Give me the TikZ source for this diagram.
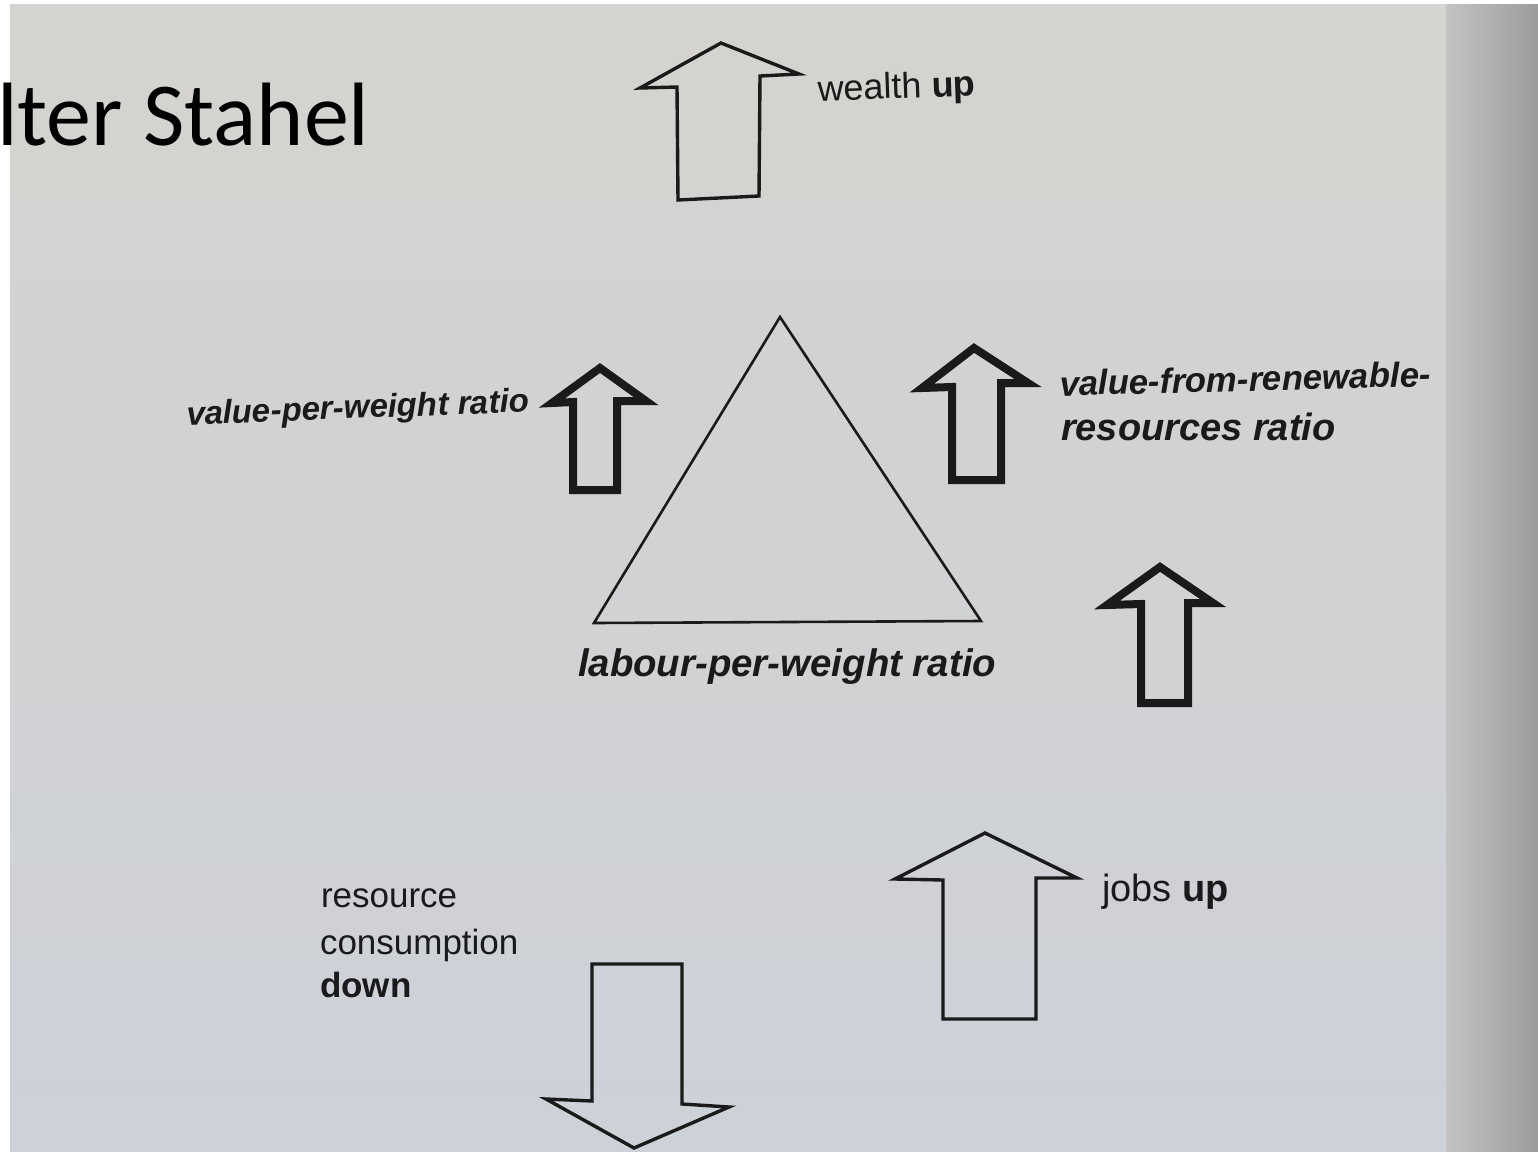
\documentclass[tikz,border=0pt]{standalone}
\usepackage{fontspec}
\setmainfont{Liberation Sans}
\newfontfamily\titlefont{Carlito}
\definecolor{bgtop}{HTML}{D5D3CF}
\definecolor{bgbot}{HTML}{CDD1D8}
\definecolor{edgeA}{HTML}{C4C3C1}
\definecolor{edgeB}{HTML}{9C9C9C}
\definecolor{ink}{HTML}{1A1A1A}
\begin{document}
\begin{tikzpicture}[x=0.5pt,y=-0.5pt,
  thinarrow/.style={draw=ink,line width=1.7pt,line join=miter},
  thickarrow/.style={draw=ink,line width=4pt,line join=miter},
  tri/.style={draw=ink,line width=1.3pt,line join=miter},
  lbl/.style={inner sep=0pt,outer sep=0pt,text=ink,anchor=base west},
  bi/.style={lbl,font=\bfseries\itshape}]
\useasboundingbox (0,0) rectangle (1538,1152);
% background (photographed page)
\shade[top color=bgtop,bottom color=bgbot] (0,0) rectangle (1538,1152);
\shade[left color=edgeA,right color=edgeB] (1446,0) rectangle (1538,1152);
\fill[white] (0,0) rectangle (10,1152);
\fill[white] (0,0) rectangle (1538,4);
% title
\node[lbl,font=\titlefont\fontsize{45}{50}\selectfont,text=black] (title) at (-3,145) {lter Stahel};
% wealth arrow (thin)
\draw[thinarrow] (721,43) -- (799,74) -- (760,76) -- (759,196) -- (678,200) -- (677,87) -- (640,88) -- cycle;
\node[lbl,font=\fontsize{18}{22}\selectfont,rotate=2] (wealth) at (818,101) {wealth \textbf{up}};
% triangle
\draw[tri] (780,317) -- (981,621) -- (594,623) -- cycle;
\coordinate (triapex) at (780,317);
% value-per-weight arrow (thick)
\draw[thickarrow] (600,368) -- (646,401) -- (617,401) -- (617,490) -- (573,490) -- (573,402) -- (552,403) -- cycle;
\node[bi,font=\bfseries\itshape\fontsize{16.5}{20}\selectfont,rotate=2.2] (vpw) at (187,425) {value-per-weight ratio};
% value-from-renewable arrow (thick)
\draw[thickarrow] (974,348) -- (1028,383) -- (1001,383) -- (1001,480) -- (952,480) -- (952,387) -- (922,388) -- cycle;
\node[bi,font=\bfseries\itshape\fontsize{17.4}{22}\selectfont,rotate=1.5] (vfr1) at (1060,396) {value-from-renewable-};
\node[bi,font=\bfseries\itshape\fontsize{19}{22}\selectfont] (vfr2) at (1061,440) {resources ratio};
% labour arrow (thick)
\draw[thickarrow] (1160,567) -- (1213,603) -- (1188,603) -- (1188,703) -- (1141,703) -- (1141,604) -- (1107,605) -- cycle;
\node[bi,font=\bfseries\itshape\fontsize{19.2}{22}\selectfont] (labour) at (578,676) {labour-per-weight ratio};
% jobs arrow (thin)
\draw[thinarrow] (985,833) -- (1077,878) -- (1036,878) -- (1036,1019) -- (943,1019) -- (943,880) -- (895,879) -- cycle;
\node[lbl,font=\fontsize{19}{22}\selectfont] (jobs) at (1102,901) {jobs \textbf{up}};
% resource consumption down arrow (thin)
\draw[thinarrow] (592,964) -- (682,964) -- (682,1104) -- (729,1107) -- (634,1148) -- (546,1099) -- (592,1101) -- cycle;
\node[lbl,font=\fontsize{17.5}{22}\selectfont] (res1) at (321,907) {resource};
\node[lbl,font=\fontsize{17.5}{22}\selectfont] (res2) at (320,954) {consumption};
\node[lbl,font=\bfseries\fontsize{17.5}{22}\selectfont] (res3) at (320,997) {down};
\end{tikzpicture}
\end{document}
